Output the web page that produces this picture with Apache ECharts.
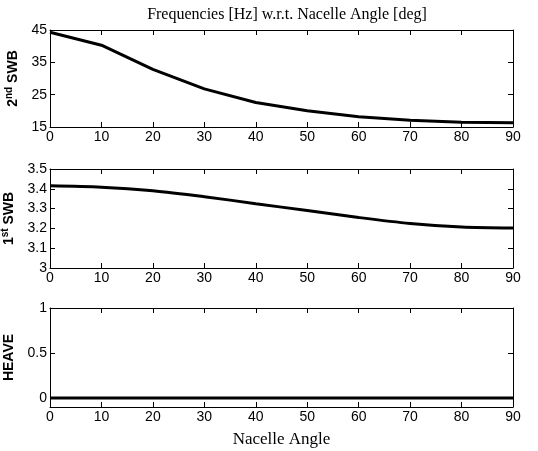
<!DOCTYPE html>
<html>
<head>
<meta charset="utf-8">
<script src="https://cdn.jsdelivr.net/npm/echarts@6/dist/echarts.min.js"></script>
<style>html,body{margin:0;padding:0;background:#fff;}#c{width:538px;height:451px;}</style>
</head>
<body>
<div id="c"></div>
<script>
const angles = [0, 10, 20, 30, 40, 50, 60, 70, 80, 90];
const swb2 = [44.3, 40.3, 32.8, 26.8, 22.6, 20.0, 18.2, 17.1, 16.5, 16.3];
const swb1 = [3.415, 3.408, 3.39, 3.36, 3.325, 3.29, 3.255, 3.225, 3.207, 3.202];
const heave = [0, 0, 0, 0, 0, 0, 0, 0, 0, 0];
const heaveTicks = [0, 0.5, 1];
const titleText = 'Frequencies [Hz] w.r.t. Nacelle Angle [deg]';
const xName = 'Nacelle Angle';

const chart = echarts.init(document.getElementById('c'), null, {renderer: 'canvas'});
const sans = 'Liberation Sans';
const serif = 'Liberation Serif';
const lineStyleAxis = {color: '#000', width: 1};

const grids = [
  {left: 50, right: 25, top: 30, height: 97, containLabel: false, outerBoundsMode: 'none'},
  {left: 50, right: 25, top: 169, height: 99, containLabel: false, outerBoundsMode: 'none'},
  {left: 50, right: 25, top: 308, height: 99, containLabel: false, outerBoundsMode: 'none'}
];

const xAxes = [];
const yAxes = [];
const yCfg = [
  {min: 15, max: 45, interval: 10, name: '{b|2}{s|nd}{b| SWB}'},
  {min: 3, max: 3.5, interval: 0.1, name: '{b|1}{s|st}{b| SWB}'},
  {min: -0.1, max: 1, custom: heaveTicks, name: '{b|HEAVE}'}
];
const rich = {
  b: {fontFamily: sans, fontWeight: 'bold', fontSize: 14, color: '#000', lineHeight: 17},
  s: {fontFamily: sans, fontWeight: 'bold', fontSize: 10, color: '#000', verticalAlign: 'top', lineHeight: 17, padding: [0, 0, 6, 0]}
};
for (let i = 0; i < 3; i++) {
  const last = i === 2;
  xAxes.push({
    type: 'value', gridIndex: i, min: 0, max: 90, interval: 10, position: 'bottom',
    axisLine: {show: true, onZero: false, lineStyle: lineStyleAxis},
    axisTick: {show: true, inside: true, length: 5, lineStyle: lineStyleAxis},
    axisLabel: {show: true, color: '#000', fontFamily: sans, fontSize: 14, margin: 3},
    splitLine: {show: false},
    name: last ? xName : '', nameLocation: 'middle', nameGap: 24,
    nameTextStyle: {fontFamily: serif, fontSize: 17, color: '#000'}
  });
  xAxes.push({
    type: 'value', gridIndex: i, min: 0, max: 90, interval: 10, position: 'top',
    axisLine: {show: true, onZero: false, lineStyle: lineStyleAxis},
    axisTick: {show: true, inside: true, length: 5, lineStyle: lineStyleAxis},
    axisLabel: {show: false}, splitLine: {show: false}
  });
  const c = yCfg[i];
  const base = {
    type: 'value', gridIndex: i, min: c.min, max: c.max,
    splitLine: {show: false}
  };
  if (c.interval) base.interval = c.interval;
  const tick = {show: true, inside: true, length: 5, lineStyle: lineStyleAxis};
  const lab = {show: true, color: '#000', fontFamily: sans, fontSize: 14, margin: 3, showMinLabel: true, showMaxLabel: true};
  if (c.custom) { tick.customValues = c.custom; lab.customValues = c.custom; }
  yAxes.push(Object.assign({}, base, {
    position: 'left',
    axisLine: {show: true, onZero: false, lineStyle: lineStyleAxis},
    axisTick: tick, axisLabel: lab,
    name: c.name, nameLocation: 'middle', nameRotate: 90, nameGap: 26,
    nameTextStyle: {rich: rich}
  }));
  yAxes.push(Object.assign({}, base, {
    position: 'right',
    axisLine: {show: true, onZero: false, lineStyle: lineStyleAxis},
    axisTick: Object.assign({}, tick), axisLabel: {show: false}
  }));
}

const mk = (arr) => angles.map((a, k) => [a, arr[k]]);
const seriesData = [swb2, swb1, heave];
const series = seriesData.map((arr, i) => ({
  type: 'line', xAxisIndex: i * 2, yAxisIndex: i * 2, data: mk(arr),
  showSymbol: false, symbol: 'none', smooth: i === 1 ? 0.3 : false,
  lineStyle: {color: '#000', width: 3}, silent: true, animation: false, clip: true
}));

chart.setOption({
  animation: false,
  backgroundColor: '#fff',
  title: {
    text: titleText, left: 282, top: 2, textAlign: 'center',
    textStyle: {fontFamily: serif, fontSize: 16, fontWeight: 'normal', color: '#000'}
  },
  grid: grids,
  xAxis: xAxes,
  yAxis: yAxes,
  series: series
});
</script>
</body>
</html>
